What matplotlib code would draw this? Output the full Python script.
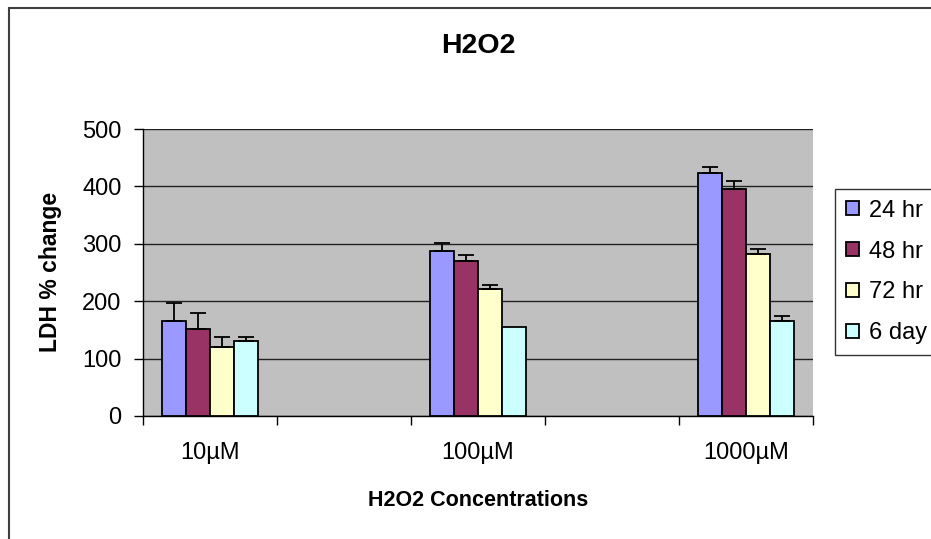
import numpy as np
import matplotlib.pyplot as plt
from matplotlib.patches import Rectangle

plt.rcParams['font.family'] = ['Liberation Sans', 'DejaVu Sans']

# Данные
concentrations = ['10µM', '', '100µM', '', '1000µM']
series_names = ['24 hr', '48 hr', '72 hr', '6 day']
colors = ['#9999FF', '#993366', '#FFFFCC', '#CCFFFF']

values = {
    '24 hr': [166, np.nan, 287, np.nan, 423],
    '48 hr': [152, np.nan, 270, np.nan, 395],
    '72 hr': [121, np.nan, 221, np.nan, 283],
    '6 day': [131, np.nan, 155, np.nan, 165],
}
errors = {
    '24 hr': [31, 0, 15, 0, 11],
    '48 hr': [27, 0, 11, 0, 14],
    '72 hr': [17, 0, 8, 0, 8],
    '6 day': [7, 0, 0, 0, 10],
}

W, H = 931, 539
fig = plt.figure(figsize=(W / 100, H / 100), dpi=100)
ax = fig.add_axes([143 / W, 1 - 416 / H, (813 - 143) / W, (416 - 129) / H])
ax.set_facecolor('#C0C0C0')

x = np.arange(len(concentrations))
width = 0.18
for i, name in enumerate(series_names):
    pos = x + (i - 1.5) * width
    vals = np.array(values[name], dtype=float)
    err = np.array(errors[name], dtype=float)
    ax.bar(pos, vals, width, color=colors[i], edgecolor='black', linewidth=1.3,
           label=name, zorder=3)
    mask = ~np.isnan(vals) & (err > 0)
    ax.errorbar(pos[mask], vals[mask], yerr=[np.zeros(mask.sum()), err[mask]],
                fmt='none', ecolor='black', elinewidth=1.3, capsize=5.5,
                capthick=1.3, zorder=4)

ax.set_ylim(0, 500)
ax.set_xlim(-0.5, len(concentrations) - 0.5)
ax.set_yticks([0, 100, 200, 300, 400, 500])
ax.yaxis.grid(True, color='#222222', linewidth=1.0, zorder=1)
ax.set_axisbelow(True)

# деления между категориями, подписи по центру
ax.set_xticks(np.arange(-0.5, len(concentrations)))
ax.set_xticklabels([])
ax.set_xticks(x, minor=True)
ax.set_xticklabels(concentrations, minor=True)
ax.tick_params(axis='x', which='major', direction='out', length=6.5, width=1, color='black')
ax.tick_params(axis='x', which='minor', length=0, pad=19, labelsize=17)
ax.tick_params(axis='y', direction='out', length=6.5, width=1, labelsize=17, pad=9)

for side in ['top', 'right']:
    ax.spines[side].set_visible(False)
for side in ['left', 'bottom']:
    ax.spines[side].set_color('black')
    ax.spines[side].set_linewidth(1.0)

# подписи осей и заголовок
fig.text(51 / W, 1 - 272 / H, 'LDH % change', fontsize=16.5, fontweight='bold',
         rotation=90, ha='center', va='center')
fig.text(478 / W, 1 - 501 / H, 'H2O2 Concentrations', fontsize=15.5, fontweight='bold',
         ha='center', va='center')
fig.text(478 / W, 1 - 46 / H, 'H2O2', fontsize=20.5, fontweight='bold',
         ha='center', va='center')

leg = fig.legend(loc='upper left', bbox_to_anchor=(835 / W, 1 - 189 / H),
                 fontsize=17, frameon=True, fancybox=False, edgecolor='black',
                 handlelength=0.55, handleheight=0.55, handletextpad=0.45,
                 labelspacing=0.8, borderpad=0.45, borderaxespad=0)
leg.get_frame().set_linewidth(1.0)

# рамка всей диаграммы
fig.patches.append(Rectangle((9 / W, -0.1), 1.2, 1.1 - 8 / H, transform=fig.transFigure,
                             fill=False, edgecolor='#404040', linewidth=1.5))

fig.savefig('out.png', dpi=100)
